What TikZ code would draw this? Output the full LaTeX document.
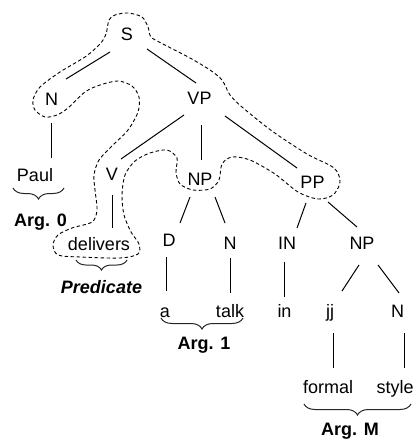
\documentclass[tikz,border=0pt]{standalone}
\usepackage{fontspec}
\setmainfont{Liberation Sans}
\usetikzlibrary{calc,decorations.pathreplacing}
\begin{document}
\begin{tikzpicture}[x=1pt,y=-1pt,
  lab/.style={anchor=base, inner sep=0pt, font=\fontsize{18}{20}\selectfont},
  arg/.style={anchor=base, inner sep=0pt, font=\fontsize{18}{20}\selectfont\bfseries},
  edge/.style={line width=1pt, black},
  contour/.style={line width=0.9pt, dash pattern=on 3.5pt off 2.5pt},
  brc/.style={decorate, decoration={brace, mirror, amplitude=#1}, line width=1pt, black!85},
]
\useasboundingbox (0,0) rectangle (417,441);

% nodes
\node[lab] (S) at (127,40.5) {S};
\node[lab] (N1) at (51.5,106) {N};
\node[lab] (VP) at (199.5,105) {VP};
\node[lab] (Paul) at (35,181) {Paul};
\node[lab] (V) at (112,180) {V};
\node[lab] (NP1) at (200,185) {NP};
\node[lab] (PP) at (312.5,188) {PP};
\node[lab] (deliv) at (99,250) {delivers};
\node[lab] (D) at (169,246) {D};
\node[lab] (N2) at (230,249) {N};
\node[lab] (IN) at (287,249) {IN};
\node[lab] (NP2) at (362,249) {NP};
\node[lab] (a) at (165,317) {a};
\node[lab] (talk) at (230,317) {talk};
\node[lab] (in) at (284.5,317) {in};
\node[lab] (jj) at (330,317) {jj};
\node[lab] (N3) at (397.5,317) {N};
\node[lab] (formal) at (328,393) {formal};
\node[lab] (style) at (395,393) {style};
\node[arg] (A0) at (40.5,226) {Arg. 0};
\node[arg, font=\fontsize{18}{20}\selectfont\bfseries\itshape] (pred) at (101.5,293) {Predicate};
\node[arg] (A1) at (204,349) {Arg. 1};
\node[arg] (AM) at (350,435) {Arg. M};

% edges
\draw[edge] ($(S.base)+(-17,11.5)$) -- ($(N1.base)+(14.5,-27)$);
\draw[edge] ($(S.base)+(20,8.5)$) -- ($(VP.base)+(-3.5,-22)$);
\draw[edge] ($(N1.base)+(-0.5,17)$) -- ($(Paul.base)+(16,-23)$);
\draw[edge] ($(VP.base)+(-15.5,10)$) -- ($(V.base)+(9,-21)$);
\draw[edge] ($(VP.base)+(1.5,20)$) -- ($(NP1.base)+(1,-25)$);
\draw[edge] ($(VP.base)+(25.5,11)$) -- ($(PP.base)+(-15.5,-20)$);
\draw[edge] ($(V.base)+(0,15)$) -- ($(deliv.base)+(13,-22)$);
\draw[edge] ($(NP1.base)+(-10,12)$) -- ($(D.base)+(11,-23)$);
\draw[edge] ($(NP1.base)+(15,12)$) -- ($(N2.base)+(-5,-26)$);
\draw[edge] ($(PP.base)+(-6.5,15)$) -- ($(IN.base)+(10,-21)$);
\draw[edge] ($(PP.base)+(15.5,14)$) -- ($(NP2.base)+(-5,-22)$);
\draw[edge] ($(D.base)+(-3,11)$) -- ($(a.base)+(1,-26)$);
\draw[edge] ($(N2.base)+(0,9)$) -- ($(talk.base)+(0,-24)$);
\draw[edge] ($(IN.base)+(-3,13)$) -- ($(in.base)+(-0.5,-20)$);
\draw[edge] ($(NP2.base)+(-3,16)$) -- ($(jj.base)+(12,-26)$);
\draw[edge] ($(NP2.base)+(16,16)$) -- ($(N3.base)+(1.5,-24)$);
\draw[edge] ($(jj.base)+(3,16)$) -- ($(formal.base)+(5,-25)$);
\draw[edge] ($(N3.base)+(6.5,16)$) -- ($(style.base)+(9,-25)$);

% braces
\draw[brc=11pt] (13,188) -- (64,188);
\draw[brc=10pt] (76,260) -- (127,260);
\draw[brc=11pt] (161,318) -- (243,318);
\draw[brc=11pt] (304,404) -- (411,404);

% dashed contour
\draw[contour] plot[smooth cycle, tension=0.5] coordinates {
 (128,13) (142,17) (148,27) (151,37) (163,44) (190,58) (210,70) (222,80)
 (230,95) (242,107) (272,131) (307,154) (334,168) (340,182) (333,195)
 (318,199) (298,192) (275,174) (250,160) (232,157) (222,164) (219,180)
 (210,189) (193,190) (180,184) (176,172) (177,158) (167,150) (150,153)
 (135,161) (125,175) (122,195) (124,215) (131,232) (139,244) (138,254)
 (120,258) (80,257) (58,255) (53,245) (58,235) (72,228) (92,222) (97,210)
 (95,190) (94,175) (99,160) (112,146) (128,130) (138,112) (139,97)
 (132,86) (118,81) (100,85) (85,92) (68,108) (57,115) (45,117) (35,110)
 (33,100) (40,87) (60,72) (85,57) (100,44) (106,34) (109,20) (115,15)
};
\end{tikzpicture}
\end{document}
